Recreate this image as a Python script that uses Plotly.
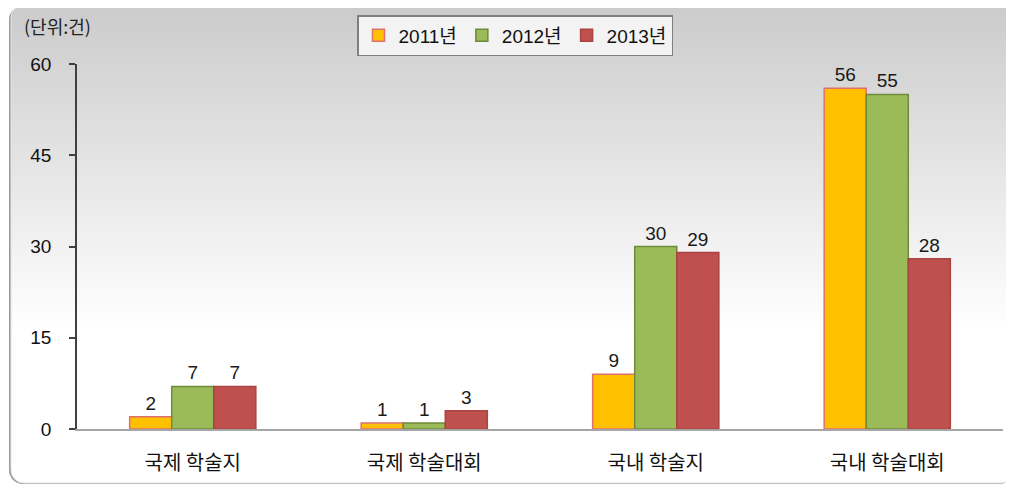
import base64
import plotly.graph_objects as go

categories = ["국제 학술지", "국제 학술대회", "국내 학술지", "국내 학술대회"]
years = ["2011년", "2012년", "2013년"]
v2011 = [2, 1, 9, 56]
v2012 = [7, 1, 30, 55]
v2013 = [7, 3, 29, 28]
y_ticks = [0, 15, 30, 45, 60]

series = [v2011, v2012, v2013]
fills = ["#FFC000", "#9BBB59", "#C0504D"]
borders = ["#E07070", "#6F8A3A", "#A84442"]

SW, SH = 1014, 487          # screen size
OFF = 8                     # page body margin
W, H = SW - OFF, SH - OFF   # figure size
L, R, T, B = 69, 11, 56, 58

svg = f'''<svg xmlns="http://www.w3.org/2000/svg" width="{SW}" height="{SH}" viewBox="0 0 {SW} {SH}">
<defs>
<linearGradient id="g" x1="0" y1="0" x2="0" y2="1">
<stop offset="0" stop-color="#cbcbcb"/>
<stop offset="0.68" stop-color="#ffffff"/>
<stop offset="1" stop-color="#ffffff"/>
</linearGradient>
</defs>
<rect x="0" y="0" width="{SW}" height="{SH}" fill="#ffffff"/>
<rect x="9" y="6" width="1004" height="478" rx="14" ry="14" fill="#9a9a9a"/>
<rect x="11" y="5" width="1003" height="478" rx="13" ry="13" fill="url(#g)" stroke="#e6e6e6" stroke-width="1"/>
</svg>'''
src = "data:image/svg+xml;base64," + base64.b64encode(svg.encode("utf-8")).decode("ascii")

pw = W - L - R
ph = H - T - B

fig = go.Figure()
for name, vals, fc, bc in zip(years, series, fills, borders):
    fig.add_trace(go.Bar(
        x=categories, y=vals, name=name,
        marker=dict(color=fc, line=dict(color=bc, width=1.5)),
        text=[str(v) for v in vals], textposition="outside",
        textfont=dict(family="Liberation Sans, Arial", size=19, color="#1a1a1a"),
        cliponaxis=False,
    ))

fig.update_layout(
    width=W, height=H,
    margin=dict(l=L, r=R, t=T, b=B, autoexpand=False),
    paper_bgcolor="#ffffff",
    plot_bgcolor="rgba(0,0,0,0)",
    barmode="group", bargap=0.455, bargroupgap=0,
    showlegend=True,
    legend=dict(
        orientation="h", x=(507 - L) / pw, xanchor="center",
        y=1 + (T - 7) / ph, yanchor="top",
        bgcolor="#f3f3f3", bordercolor="#7f7f7f", borderwidth=1.5,
        font=dict(family="Liberation Sans, Noto Sans CJK KR", size=19, color="#111111"),
        tracegroupgap=0, itemwidth=30,
    ),
    xaxis=dict(
        showline=True, linecolor="#a6a6a6", linewidth=1.5,
        ticks="", showgrid=False, automargin=False,
        tickfont=dict(family="Noto Sans CJK KR", size=20, color="#111111"),
        ticklabelstandoff=15,
    ),
    yaxis=dict(
        range=[0, 60], tickvals=y_ticks, ticktext=[str(t) for t in y_ticks],
        showline=True, linecolor="#404040", linewidth=1.5,
        ticks="outside", ticklen=6, tickcolor="#404040", tickwidth=1.5,
        showgrid=False, zeroline=False, automargin=False,
        tickfont=dict(family="Liberation Sans, Arial", size=19, color="#111111"),
        ticklabelstandoff=14,
    ),
    images=[dict(
        source=src, xref="paper", yref="paper",
        x=(-OFF - L) / pw, y=1 + (T + OFF) / ph, sizex=SW / pw, sizey=SH / ph,
        xanchor="left", yanchor="top", sizing="stretch", layer="below",
    )],
    annotations=[dict(
        text="(단위:건)", xref="paper", yref="paper",
        x=(22 - OFF - L) / pw, y=1 + (T - 18) / ph, xanchor="left", yanchor="middle",
        showarrow=False,
        font=dict(family="Noto Sans CJK KR", size=18, color="#222222"),
    )],
)

fig.write_html("out.html")
